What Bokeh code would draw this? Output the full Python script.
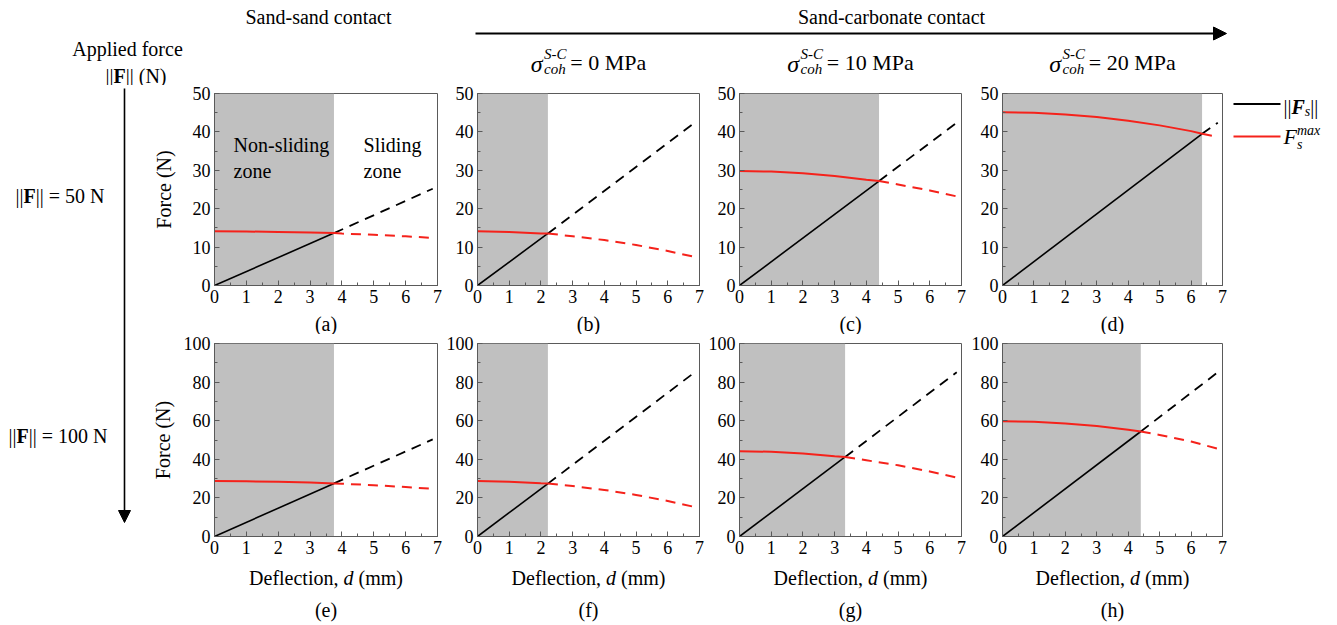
from bokeh.plotting import figure
from bokeh.layouts import row, column
from bokeh.models import (Range1d, Label, BoxAnnotation, Arrow, NormalHead,
                          SingleIntervalTicker)
from bokeh.embed import file_html
from bokeh.resources import INLINE

FONT = "Liberation Serif"
FRAME = "#5a5a5a"
SHADE = "#c0c0c0"
RED = "#f5221b"
BLACK = "#000000"

# ---------------- data ----------------
d_grid = [0, 1, 2, 3, 4, 5, 6, 6.85]          # deflection samples (mm)
panel_tags = ["(a)", "(b)", "(c)", "(d)", "(e)", "(f)", "(g)", "(h)"]
cross_d = [3.75, 2.22, 4.40, 6.35, 3.75, 2.22, 3.33, 4.40]   # end of non-sliding zone
cross_F = [13.65, 13.55, 27.2, 39.5, 27.5, 27.4, 41.2, 54.4]  # force at the crossing
fs_end = [25.2, 42.4, 42.4, 42.4, 50.3, 85.1, 85.1, 85.1]      # ||Fs|| at d = 6.85
fmax_a = [14.1, 14.06, 13.96, 13.78, 13.52, 13.2, 12.8, 12.4]
fmax_b = [14.1, 13.96, 13.53, 12.82, 11.83, 10.55, 8.99, 7.44]
fmax_c = [29.8, 29.66, 29.24, 28.54, 27.56, 26.3, 24.76, 23.2]
fmax_d = [45.1, 44.96, 44.56, 43.88, 42.92, 41.7, 40.2, 38.7]
fmax_e = [28.7, 28.6, 28.36, 27.94, 27.34, 26.58, 25.64, 24.7]
fmax_f = [28.7, 28.41, 27.56, 26.13, 24.12, 21.55, 18.4, 15.3]
fmax_g = [44.2, 43.9, 43.03, 41.57, 39.5, 36.9, 33.7, 30.5]
fmax_h = [59.7, 59.4, 58.6, 57.2, 55.3, 52.6, 49.2, 45.5]
fmax_all = [fmax_a, fmax_b, fmax_c, fmax_d, fmax_e, fmax_f, fmax_g, fmax_h]
y_max_rows = [50, 100]
y_step_rows = [10, 20]
x_max = 7
sigma_values = ["0", "10", "20"]
applied_forces = ["50", "100"]

# ---------------- text width helper (Times metrics) ----------------
REG = {' ': 250, '(': 333, ')': 333, '-': 333, '=': 564, '|': 200, ',': 250,
       'A': 722, 'C': 667, 'D': 722, 'F': 556, 'M': 889, 'N': 722, 'P': 556,
       'S': 556, 'a': 444, 'b': 500, 'c': 444, 'd': 500, 'e': 444, 'f': 333,
       'h': 500, 'i': 278, 'l': 278, 'm': 778, 'n': 500, 'o': 500, 'p': 500,
       'r': 333, 's': 389, 't': 278, 'x': 500, 'z': 444, 'g': 500,
       '\u03c3': 549}
for _c in "0123456789":
    REG[_c] = 500
IT = {'F': 611, 'S': 500, 'C': 667, 'c': 444, 'o': 500, 'h': 500, 's': 389,
      'm': 722, 'a': 500, 'x': 444, 'd': 500}
BO = {'F': 611}
BI = {'F': 667}


def tw(s, size, style):
    w = 0
    for ch in s:
        if "bold" in style and "italic" in style and ch in BI:
            w += BI[ch]
        elif "italic" in style and ch in IT:
            w += IT[ch]
        elif "bold" in style and ch in BO:
            w += BO[ch]
        else:
            w += REG.get(ch, 500)
    return w * size / 1000.0


def rich(fig, x, y, pieces, align="left"):
    """pieces: (text, size_px, style, dy_down, stack_on_previous)"""
    pos = []
    cursor = 0.0
    last_x = 0.0
    for (t, size, style, dy, stack) in pieces:
        w = tw(t, size, style)
        px = last_x if stack else cursor
        pos.append(px)
        cursor = max(cursor, px + w)
        last_x = px
    shift = {"left": 0.0, "center": -cursor / 2.0, "right": -cursor}[align]
    for (t, size, style, dy, stack), px in zip(pieces, pos):
        lead = len(t) - len(t.lstrip(" "))
        lead_w = tw(t[:lead], size, style)
        fig.add_layout(Label(x=x + px + shift + lead_w, y=y + dy, text=t.strip(" "),
                             text_font=FONT, text_font_size=f"{size}px",
                             text_font_style=style, text_color=BLACK,
                             text_align="left", text_baseline="middle"))


def plain(fig, x, y, text, size=20, align="center", style="normal"):
    fig.add_layout(Label(x=x, y=y, text=text, text_font=FONT,
                         text_font_size=f"{size}px", text_font_style=style,
                         text_align=align, text_baseline="middle",
                         text_color=BLACK))


def strip(width, height, xr, yr):
    s = figure(width=width, height=height, x_range=Range1d(*xr),
               y_range=Range1d(*yr), output_backend="svg",
               toolbar_location=None, min_border=0, title=None,
               x_axis_type=None, y_axis_type=None)
    s.outline_line_color = None
    s.background_fill_color = "white"
    s.border_fill_color = "white"
    return s


# ---------------- layout geometry (pixels) ----------------
COL_W = [303, 262, 262, 261]
COL_MBL = [74, 34, 34, 35]
FRAME_CX = [325.5, 588, 850, 1112]
ROW_H = [226, 228]
ROW_MBT = [8, 9]
ROW_MBB = [26, 26]
LEFT_W = 140
RIGHT_W = 109
TOP_H = 85


def make_panel(i):
    r = 0 if i < 4 else 1
    c = i % 4
    ymax = y_max_rows[r]
    p = figure(width=COL_W[c], height=ROW_H[r],
               x_range=Range1d(0, x_max), y_range=Range1d(0, ymax),
               output_backend="svg", toolbar_location=None, title=None,
               min_border_left=COL_MBL[c], min_border_right=6,
               min_border_top=ROW_MBT[r], min_border_bottom=ROW_MBB[r])
    p.grid.visible = False
    p.background_fill_color = "white"
    p.border_fill_color = "white"
    p.outline_line_color = FRAME
    p.outline_line_width = 1

    p.xaxis.ticker = SingleIntervalTicker(interval=1, num_minor_ticks=2)
    p.yaxis.ticker = SingleIntervalTicker(interval=y_step_rows[r], num_minor_ticks=2)
    for ax in (p.xaxis[0], p.yaxis[0]):
        ax.axis_line_color = FRAME
        ax.major_tick_line_color = FRAME
        ax.minor_tick_line_color = FRAME
        ax.major_tick_in = 5
        ax.major_tick_out = 0
        ax.minor_tick_in = 3
        ax.minor_tick_out = 0
        ax.major_label_text_font = FONT
        ax.major_label_text_font_size = "18px"
        ax.major_label_text_color = BLACK
        ax.major_label_standoff = 4
    if c == 0:
        p.yaxis.axis_label = "Force (N)"
        p.yaxis.axis_label_text_font = FONT
        p.yaxis.axis_label_text_font_size = "20px"
        p.yaxis.axis_label_text_font_style = "normal"
        p.yaxis.axis_label_text_color = BLACK
        p.yaxis.axis_label_standoff = 15 if r == 0 else 7

    # shaded non-sliding zone
    p.add_layout(BoxAnnotation(left=0, right=cross_d[i], fill_color=SHADE,
                               fill_alpha=1.0, line_color=None, level="underlay"))

    cd, cf = cross_d[i], cross_F[i]
    fm = fmax_all[i]
    # ||Fs|| line
    p.line(x=[0, cd], y=[0, cf], line_color=BLACK, line_width=1.6)
    p.line(x=[cd, d_grid[-1]], y=[cf, fs_end[i]], line_color=BLACK,
           line_width=1.8, line_dash="10 7")
    # Fs max curve
    xs_solid = [d for d in d_grid if d < cd] + [cd]
    ys_solid = [f for d, f in zip(d_grid, fm) if d < cd] + [cf]
    xs_dash = [cd] + [d for d in d_grid if d > cd]
    ys_dash = [cf] + [f for d, f in zip(d_grid, fm) if d > cd]
    p.line(x=xs_solid, y=ys_solid, line_color=RED, line_width=2)
    p.line(x=xs_dash, y=ys_dash, line_color=RED, line_width=2, line_dash="10 7")

    if i == 0:
        for tx, xx in (("Non-sliding", 0.6), ("Sliding", 4.68)):
            plain(p, xx, 36.5, tx, align="left")
        for xx in (0.6, 4.68):
            plain(p, xx, 29.9, "zone", align="left")
    return p


panels = [make_panel(i) for i in range(8)]

# ---------------- top strip ----------------
top = strip(1337, TOP_H, (0, 1337), (TOP_H, 0))
plain(top, 318, 16, "Sand-sand contact")
plain(top, 891, 16, "Sand-carbonate contact")
top.add_layout(Arrow(x_start=475, y_start=33, x_end=1226, y_end=33,
                     line_color=BLACK, line_width=2,
                     end=NormalHead(size=13, fill_color=BLACK, line_color=BLACK)))
for cx, sv in zip(FRAME_CX[1:], sigma_values):
    rich(top, cx, 62, [("\u03c3", 24, "italic", 1, False),
                       ("S-C ", 15, "italic", -9, False),
                       ("coh ", 15, "italic", 6, True),
                       (f"= {sv} MPa", 22, "normal", 0, False)], align="center")
plain(top, 127, 48, "Applied force")
rich(top, 105, 75, [("||", 20, "normal", 0, False), ("F", 20, "bold", 0, False),
                    ("|| (N)", 20, "normal", 0, False)])

# ---------------- panel tag strips ----------------
GRID_W = sum(COL_W)
mid = strip(GRID_W, 23, (140, 140 + GRID_W), (334, 311))
for cx, tag in zip(FRAME_CX, panel_tags[:4]):
    plain(mid, cx, 323.5, tag)

bot = strip(GRID_W, 63, (140, 140 + GRID_W), (625, 562))
for cx, tag in zip(FRAME_CX, panel_tags[4:]):
    rich(bot, cx, 577, [("Deflection, ", 20, "normal", 0, False),
                        ("d", 20, "italic", 0, False),
                        (" (mm)", 20, "normal", 0, False)], align="center")
    plain(bot, cx, 609, tag)

# ---------------- left strip ----------------
left = strip(LEFT_W, 540, (0, LEFT_W), (625, 85))
left.add_layout(Arrow(x_start=124, y_start=88, x_end=124, y_end=522,
                      line_color=BLACK, line_width=1.6,
                      end=NormalHead(size=12, fill_color=BLACK, line_color=BLACK)))
for yy, xx, fv in zip([195, 435], [15, 8], applied_forces):
    rich(left, xx, yy, [("||", 20, "normal", 0, False), ("F", 20, "bold", 0, False),
                        (f"|| = {fv} N", 20, "normal", 0, False)])

# ---------------- right strip (legend) ----------------
right = strip(RIGHT_W, 540, (1228, 1337), (625, 85))
right.segment(x0=[1233], y0=[103.5], x1=[1280], y1=[103.5], line_color=BLACK, line_width=1.8)
right.segment(x0=[1233], y0=[136], x1=[1280], y1=[136], line_color=RED, line_width=1.8)
rich(right, 1283, 106, [("||", 20, "normal", 0, False), ("F", 20, "bold italic", 0, False),
                        ("s", 14, "italic", 5, False), ("||", 20, "normal", 0, False)])
rich(right, 1283, 136, [("F", 22, "italic", 0, False), ("max", 14, "italic", -6, False),
                        ("s", 14, "italic", 8, True)])

grid = column(row(*panels[:4]), mid, row(*panels[4:]), bot)
layout = column(top, row(left, grid, right))

open("out.html", "w").write(file_html(layout, INLINE))
